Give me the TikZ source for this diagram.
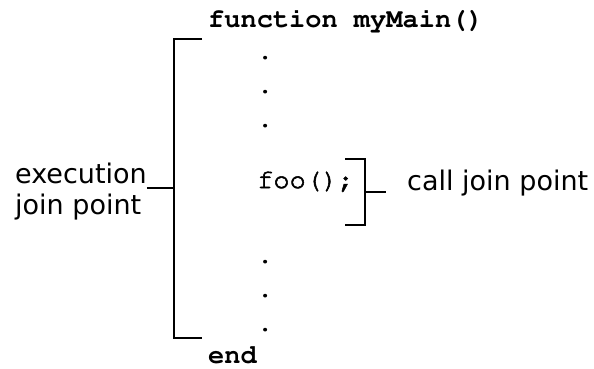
\documentclass[tikz,border=0pt]{standalone}
\usepackage{fontspec}
\setsansfont{DejaVu Sans}
\usetikzlibrary{calc}
% Courier (URW Nimbus Mono) for the code lines
\newcommand\codefont{\fontencoding{T1}\fontfamily{pcr}\fontsize{27}{32}\selectfont}
% a slightly heavier regular weight: fill and stroke the glyphs
\newcommand\heavier[1]{\special{pdf:literal direct 2 Tr 0.55 w}#1\special{pdf:literal direct 0 Tr}}
\begin{document}
\begin{tikzpicture}[x=1pt,y=-1pt,
    code/.style={anchor=base west,inner sep=0pt,font=\codefont\bfseries},
    note/.style={anchor=base west,inner sep=0pt,font=\fontsize{27}{31}\selectfont\sffamily},
    bracket/.style={line width=1.8pt}]

        \useasboundingbox (0,0) rectangle (594,368);

        % the function body
        \node[code] (fn) at (208,27) {function myMain()};
        \node[code] (d1) at (257,59) {.};
        \node[code] (d2) at (257,93) {.};
        \node[code] (d3) at (257,127) {.};
        \node[code,font=\codefont] (call) at (257,188) {\heavier{foo();}};
        \node[code] (d4) at (257,263) {.};
        \node[code] (d5) at (257,297) {.};
        \node[code] (d6) at (257,331) {.};
        \node[code] (end) at (208,363) {end};

        % execution join point, round the whole body
        \node[note] (exec) at (15,183) {execution};
        \node[note] (execjp) at (15,214) {join point};
        \coordinate (et) at (174,39);
        \coordinate (eb) at (174,338);
        \coordinate (etick) at ([yshift=-5pt]exec.base east);
        \draw[bracket] ([xshift=28pt]et) -- (et) -- (eb) -- ([xshift=28pt]eb);
        \draw[bracket] (etick) -- (etick -| et);

        % call join point, round the call only
        \coordinate (ct) at (365,159);
        \coordinate (cb) at (365,225);
        \node[note] (calljp) at (407,190) {call join point};
        \draw[bracket] ([xshift=-20pt]ct) -- (ct) -- (cb) -- ([xshift=-20pt]cb);
        \draw[bracket] ($(ct)!0.5!(cb)$) -- ++(21,0);

\end{tikzpicture}
\end{document}
